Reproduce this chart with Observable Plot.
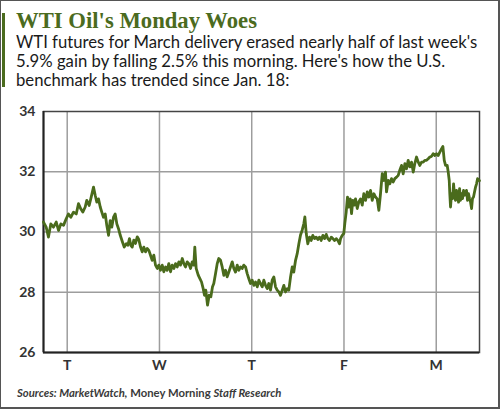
<!DOCTYPE html>
<html>
<head>
<meta charset="utf-8">
<script src="https://cdn.jsdelivr.net/npm/d3@7"></script>
<script src="https://cdn.jsdelivr.net/npm/@observablehq/plot@0.6"></script>
<style>
  html, body { margin: 0; padding: 0; background: #fff; }
  #wrap { position: relative; width: 500px; height: 410px; overflow: hidden; background: #fff; }
  #border { position: absolute; left: 0; top: 0; width: 500px; height: 409px; box-sizing: border-box;
            border: 1px solid #555; border-right-width: 2px; border-bottom-width: 2px; pointer-events: none; }
  #bar { position: absolute; left: 2px; top: 13px; width: 3px; height: 74px; background: #4b6b1e; }
  svg.txt { position: absolute; left: 0; }
  #chart { position: absolute; left: 0; top: 95px; }
</style>
</head>
<body>
<div id="wrap">
  <div id="bar"></div>
  <svg class="txt" id="head" width="500" height="95" style="top:0"></svg>
  <div id="chart"></div>
  <svg class="txt" id="foot" width="500" height="30" style="top:380px"></svg>
  <div id="border"></div>
</div>
<script>
// ---- text ----
const title = "WTI Oil's Monday Woes";
const subtitleLines = [
  "WTI futures for March delivery erased nearly half of last week's",
  "5.9% gain by falling 2.5% this morning. Here's how the U.S.",
  "benchmark has trended since Jan. 18:"
];
const sourceParts = [
  ["Sources: MarketWatch,", "italic"],
  [" Money Morning ", "normal"],
  ["Staff Research", "italic"]
];

// ---- axes ----
const dayTicks = [0, 1, 2, 3, 4];
const dayLabels = ["T", "W", "T", "F", "M"];
const priceTicks = [26, 28, 30, 32, 34];
const priceDomain = [26, 34];
const sessionDomain = [-0.257, 4.469];

// ---- WTI March futures: [trading day (0 = Tue), price $] ----
const wti = [
  [-0.257,30.33],[-0.228,30.16],[-0.203,29.83],[-0.178,30.27],[-0.149,30.16],[-0.119,30.33],[-0.094,30.05],[-0.069,30.27],
  [-0.040,30.22],[-0.011,30.44],[0.014,30.60],[0.039,30.49],[0.068,30.66],[0.098,30.60],[0.122,30.94],[0.147,30.77],
  [0.169,30.66],[0.195,30.83],[0.212,31.05],[0.238,30.88],[0.260,31.16],[0.285,31.49],[0.304,31.21],[0.321,30.99],
  [0.339,31.10],[0.358,30.83],[0.375,30.66],[0.393,30.49],[0.412,30.60],[0.429,30.22],[0.448,29.89],[0.466,30.38],
  [0.483,30.16],[0.502,30.49],[0.520,30.60],[0.538,30.27],[0.556,30.11],[0.575,29.89],[0.599,29.67],[0.618,29.50],
  [0.640,29.61],[0.657,29.56],[0.675,29.78],[0.689,29.56],[0.705,29.50],[0.722,29.73],[0.740,29.62],[0.759,29.84],
  [0.776,29.75],[0.795,29.50],[0.813,29.34],[0.830,29.50],[0.849,29.34],[0.867,29.45],[0.885,29.39],[0.903,29.23],
  [0.921,29.06],[0.939,29.23],[0.957,28.90],[0.976,28.79],[0.993,28.90],[1.011,28.73],[1.030,28.90],[1.047,28.68],
  [1.066,28.84],[1.084,28.73],[1.101,28.95],[1.120,28.68],[1.138,28.90],[1.156,28.79],[1.174,28.95],[1.192,28.84],
  [1.210,29.01],[1.228,28.90],[1.247,29.12],[1.264,28.95],[1.282,28.84],[1.301,29.01],[1.318,28.95],[1.337,28.79],
  [1.355,29.01],[1.372,28.90],[1.383,29.50],[1.398,28.79],[1.420,28.57],[1.437,28.46],[1.456,28.34],[1.474,28.12],
  [1.488,27.90],[1.502,28.07],[1.521,27.57],[1.539,27.90],[1.557,27.85],[1.575,28.18],[1.589,28.29],[1.608,28.62],
  [1.626,28.95],[1.643,29.12],[1.662,29.06],[1.680,28.84],[1.698,28.56],[1.716,28.73],[1.734,28.51],[1.752,28.67],
  [1.770,28.84],[1.789,29.01],[1.806,28.79],[1.824,28.67],[1.843,28.90],[1.860,28.73],[1.879,28.84],[1.897,28.79],
  [1.914,28.90],[1.933,28.84],[1.951,28.62],[1.969,28.45],[1.987,28.29],[2.005,28.40],[2.023,28.23],[2.041,28.34],
  [2.060,28.18],[2.077,28.40],[2.095,28.29],[2.114,28.18],[2.131,28.40],[2.150,28.23],[2.168,28.12],[2.185,28.29],
  [2.204,28.07],[2.222,28.40],[2.240,28.51],[2.258,28.18],[2.276,28.07],[2.294,28.01],[2.312,27.90],[2.331,28.07],
  [2.348,28.23],[2.366,28.01],[2.385,28.12],[2.402,28.07],[2.421,28.51],[2.439,28.84],[2.456,28.67],[2.475,29.06],
  [2.493,29.28],[2.511,29.61],[2.529,29.90],[2.547,30.06],[2.565,30.28],[2.576,30.50],[2.591,29.95],[2.608,29.61],
  [2.627,29.83],[2.645,29.72],[2.662,29.89],[2.681,29.78],[2.699,29.83],[2.717,29.75],[2.735,29.83],[2.753,29.72],
  [2.771,29.89],[2.789,29.78],[2.808,29.92],[2.825,29.78],[2.843,29.72],[2.862,29.83],[2.879,29.78],[2.898,29.72],
  [2.916,29.78],[2.933,29.72],[2.952,29.61],[2.963,29.78],[2.981,29.89],[2.998,29.95],[3.009,30.28],[3.024,30.66],
  [3.038,31.16],[3.053,30.83],[3.068,31.10],[3.082,30.61],[3.096,31.05],[3.111,30.89],[3.125,31.10],[3.144,30.78],
  [3.161,31.00],[3.179,31.10],[3.198,30.89],[3.215,31.27],[3.234,31.05],[3.252,31.33],[3.269,31.16],[3.288,31.38],
  [3.306,31.05],[3.324,31.27],[3.342,31.16],[3.360,31.10],[3.378,30.72],[3.396,31.27],[3.415,31.94],[3.432,31.71],
  [3.450,31.99],[3.461,31.33],[3.480,31.71],[3.497,31.60],[3.515,31.77],[3.534,31.66],[3.551,31.77],[3.570,31.82],
  [3.588,31.88],[3.605,32.05],[3.624,32.21],[3.642,31.93],[3.660,32.27],[3.678,32.10],[3.696,32.38],[3.714,32.16],
  [3.732,32.32],[3.751,31.99],[3.768,32.27],[3.786,32.49],[3.805,32.32],[3.822,32.21],[3.841,32.32],[3.859,32.32],
  [3.876,32.38],[3.895,32.38],[3.913,32.43],[3.931,32.49],[3.949,32.51],[3.967,32.60],[3.985,32.54],[4.003,32.60],
  [4.022,32.54],[4.039,32.65],[4.057,32.76],[4.072,32.84],[4.087,32.38],[4.101,32.21],[4.119,32.21],[4.130,31.99],
  [4.141,31.71],[4.147,31.27],[4.155,30.83],[4.166,31.27],[4.177,31.11],[4.188,31.60],[4.198,31.22],[4.209,31.05],
  [4.220,31.38],[4.231,31.22],[4.242,30.99],[4.253,31.44],[4.263,31.05],[4.274,31.27],[4.285,31.11],[4.296,31.38],
  [4.307,31.22],[4.318,31.27],[4.328,31.38],[4.339,31.05],[4.350,31.27],[4.361,31.11],[4.372,30.99],[4.383,30.78],
  [4.393,31.11],[4.404,31.16],[4.415,31.33],[4.426,31.49],[4.437,31.60],[4.448,31.77],[4.469,31.70]
];

const data = wti.map(([t, p]) => ({t, p}));

// ---- header / footer text ----
const NS = "http://www.w3.org/2000/svg";
function addText(svg, str, attrs) {
  const el = document.createElementNS(NS, "text");
  for (const k in attrs) el.setAttribute(k, attrs[k]);
  el.textContent = str;
  svg.appendChild(el);
  return el;
}
const head = document.getElementById("head");
addText(head, title, {x: 16, y: 28, "font-family": "Liberation Serif, serif", "font-weight": "bold",
  "font-size": 22.7, fill: "#4b6b1e"});
const subBase = [48, 67, 86];
subtitleLines.forEach((s, i) => addText(head, s, {x: 16, y: subBase[i], "font-family": "Lato, sans-serif",
  "font-size": 16.7, fill: "#1a1a1a"}));

const foot = document.getElementById("foot");
const src = document.createElementNS(NS, "text");
src.setAttribute("x", 17); src.setAttribute("y", 17);
src.setAttribute("font-family", "Lato, sans-serif");
src.setAttribute("font-size", 11.3);
src.setAttribute("font-weight", "bold");
src.setAttribute("fill", "#3a3a3a");
src.style.whiteSpace = "pre";
for (const [s, st] of sourceParts) {
  const ts = document.createElementNS(NS, "tspan");
  ts.setAttribute("font-style", st);
  ts.textContent = s;
  src.appendChild(ts);
}
foot.appendChild(src);

// ---- chart ----
const chart = Plot.plot({
  width: 500,
  height: 280,
  marginTop: 16,
  marginBottom: 23,
  marginLeft: 43,
  marginRight: 21,
  style: {fontFamily: "Lato, sans-serif", fontSize: "14px", fontWeight: "bold", color: "#333", background: "transparent"},
  x: {domain: sessionDomain},
  y: {domain: priceDomain},
  marks: [
    Plot.gridX(dayTicks, {stroke: "#9d9d9d", strokeOpacity: 1, strokeWidth: 1.5}),
    Plot.gridY([28, 30, 32], {stroke: "#9d9d9d", strokeOpacity: 1, strokeWidth: 1.5}),
    Plot.frame({stroke: "#444", strokeWidth: 1.5}),
    Plot.ruleY([priceDomain[0]], {stroke: "#222", strokeWidth: 2}),
    Plot.ruleX([sessionDomain[0]], {stroke: "#222", strokeWidth: 2}),
    Plot.line(data, {x: "t", y: "p", stroke: "#4a6b1c", strokeWidth: 2.8, strokeLinejoin: "round"}),
    Plot.axisX(dayTicks, {tickSize: 0, tickPadding: 8, tickFormat: (d, i) => dayLabels[i], label: null, fontSize: 14}),
    Plot.axisY(priceTicks, {tickSize: 0, tickPadding: 8, label: null, fontSize: 14})
  ]
});
document.getElementById("chart").appendChild(chart);
</script>
</body>
</html>
